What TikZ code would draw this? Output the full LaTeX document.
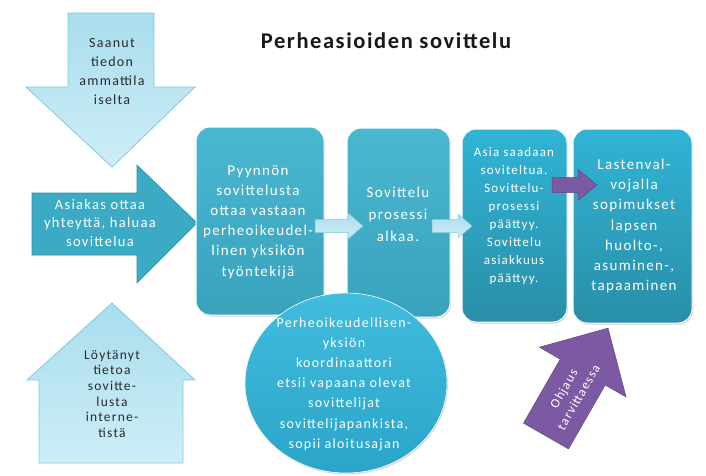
\documentclass[tikz,border=0pt]{standalone}
\usepackage{fontspec}
\setmainfont{Carlito}[LetterSpace=9]
\newfontfamily\titlefont{Carlito}[LetterSpace=7]
\usetikzlibrary{shadows}
\definecolor{lbtop}{HTML}{A9DDED}
\definecolor{lbbot}{HTML}{CDEEF8}
\definecolor{lbline}{HTML}{86C9DD}
\definecolor{teal1}{HTML}{3AAAC5}
\definecolor{boxAtop}{HTML}{4AB7D0}
\definecolor{boxAbot}{HTML}{39A2BC}
\definecolor{boxBtop}{HTML}{30B4D6}
\definecolor{boxBbot}{HTML}{2A8EA7}
\definecolor{ellc}{HTML}{2DB5DA}
\definecolor{ellb}{HTML}{2AA4C8}
\definecolor{purp}{HTML}{7B5AA3}
\definecolor{darktxt}{HTML}{2A2A2A}
\tikzset{
  lightarrow/.style={top color=lbtop, bottom color=lbbot, draw=lbline, line width=0.8pt},
  tealarrow/.style={fill=teal1, draw=teal1!85!black, line width=0.6pt},
  boxA/.style={rounded corners=14pt, top color=boxAtop, bottom color=boxAbot, draw=white, line width=1pt,
    drop shadow={opacity=0.35, shadow xshift=1pt, shadow yshift=-1.5pt}},
  boxB/.style={rounded corners=14pt, top color=boxBtop, bottom color=boxBbot, draw=white, line width=1pt,
    drop shadow={opacity=0.35, shadow xshift=1pt, shadow yshift=-1.5pt}},
  smallarrow/.style={top color=lbtop, bottom color=lbbot, draw=lbline, line width=0.5pt},
  purparrow/.style={fill=purp, draw=purp!80!black, line width=0.5pt},
  darktext/.style={text=darktxt, align=center, inner sep=0pt},
  whitetext/.style={text=white, align=center, inner sep=0pt},
}
\begin{document}
\begin{tikzpicture}[x=1pt,y=-1pt]
\useasboundingbox (0,0) rectangle (706,475);
\fill[white] (0,0) rectangle (706,475);

% title
\node[inner sep=0pt, font=\titlefont\bfseries\fontsize{22.5}{26}\selectfont, text=black!90] (title) at (386,41) {Perheasioiden sovittelu};

% left arrows
\draw[lightarrow] (68,13) -- (154,13) -- (154,87) -- (195,87) -- (112,167) -- (26,87) -- (68,87) -- cycle;
\node[darktext, font=\fontsize{14}{19}\selectfont] (saanut) at (112,72) {Saanut\\tiedon\\ammattila\\iselta};

\draw[tealarrow] (32,193) -- (137,193) -- (137,165) -- (197,223) -- (137,283) -- (137,255) -- (32,255) -- cycle;
\node[whitetext, font=\fontsize{14.5}{18.5}\selectfont] (asiakas) at (100,223) {Asiakas ottaa\\yhteyttä, haluaa\\sovittelua};

\draw[lightarrow] (39,463) -- (183,463) -- (183,380) -- (195,380) -- (112,303) -- (27,380) -- (39,380) -- cycle;
\node[darktext, font=\fontsize{13.5}{15.7}\selectfont] (loytanyt) at (112,394) {Löytänyt\\tietoa\\sovitte-\\lusta\\interne-\\tistä};

% boxes
\path[boxA] (196,127) rectangle (324,315);
\node[whitetext, font=\fontsize{15}{20.2}\selectfont] (pyynnon) at (258,222) {Pyynnön\\sovittelusta\\ottaa vastaan\\perheoikeudel-\\linen yksikön\\työntekijä};

\path[boxA] (347,128) rectangle (450,317);
\node[whitetext, font=\fontsize{15}{22}\selectfont] (prosessi) at (398,214) {Sovittelu\\prosessi\\alkaa.};

\path[boxB] (462,129) rectangle (567,322);
\node[whitetext, font=\fontsize{13}{18.1}\selectfont] (asia) at (514,216) {Asia saadaan\\soviteltua.\\Sovittelu-\\prosessi\\päättyy.\\Sovittelu\\asiakkuus\\päättyy.};

\path[boxB] (573,129) rectangle (692,323);
\node[whitetext, font=\fontsize{15}{20.3}\selectfont] (lastenval) at (634,226) {Lastenval-\\vojalla\\sopimukset\\lapsen\\huolto-,\\asuminen-,\\tapaaminen};

% small arrows between boxes
\draw[smallarrow] (315,219.5) -- (348,219.5) -- (348,213) -- (363,226) -- (348,239) -- (348,232.5) -- (315,232.5) -- cycle;
\draw[smallarrow] (432,219.5) -- (458,219.5) -- (458,214) -- (472,226) -- (458,238) -- (458,232.5) -- (432,232.5) -- cycle;
\draw[purparrow] (552,177.5) -- (578,177.5) -- (578,169.5) -- (597,185) -- (578,200.5) -- (578,192.5) -- (552,192.5) -- cycle;

% ellipse
\path[draw=white, line width=0.6pt, top color=ellc!90!white, bottom color=ellb,
  drop shadow={opacity=0.3, shadow xshift=1pt, shadow yshift=-1.5pt}] (346,383) ellipse (101 and 90);
\node[whitetext, font=\fontsize{14}{20.2}\selectfont] (koord) at (344,384) {Perheoikeudellisen-\\yksiön\\koordinaattori\\etsii vapaana olevat\\sovittelijat\\sovittelijapankista,\\sopii aloitusajan};

% diagonal purple arrow
\draw[purparrow] (523.5,423.1) -- (560.2,359.2) -- (539.4,347.2) -- (608,328.1) -- (626.1,397) -- (605.2,385) -- (568.5,448.9) -- cycle;
\node[whitetext, rotate=60, font=\fontsize{13}{17}\selectfont] (ohjaus) at (571,393) {Ohjaus\\tarvittaessa};
\end{tikzpicture}
\end{document}
